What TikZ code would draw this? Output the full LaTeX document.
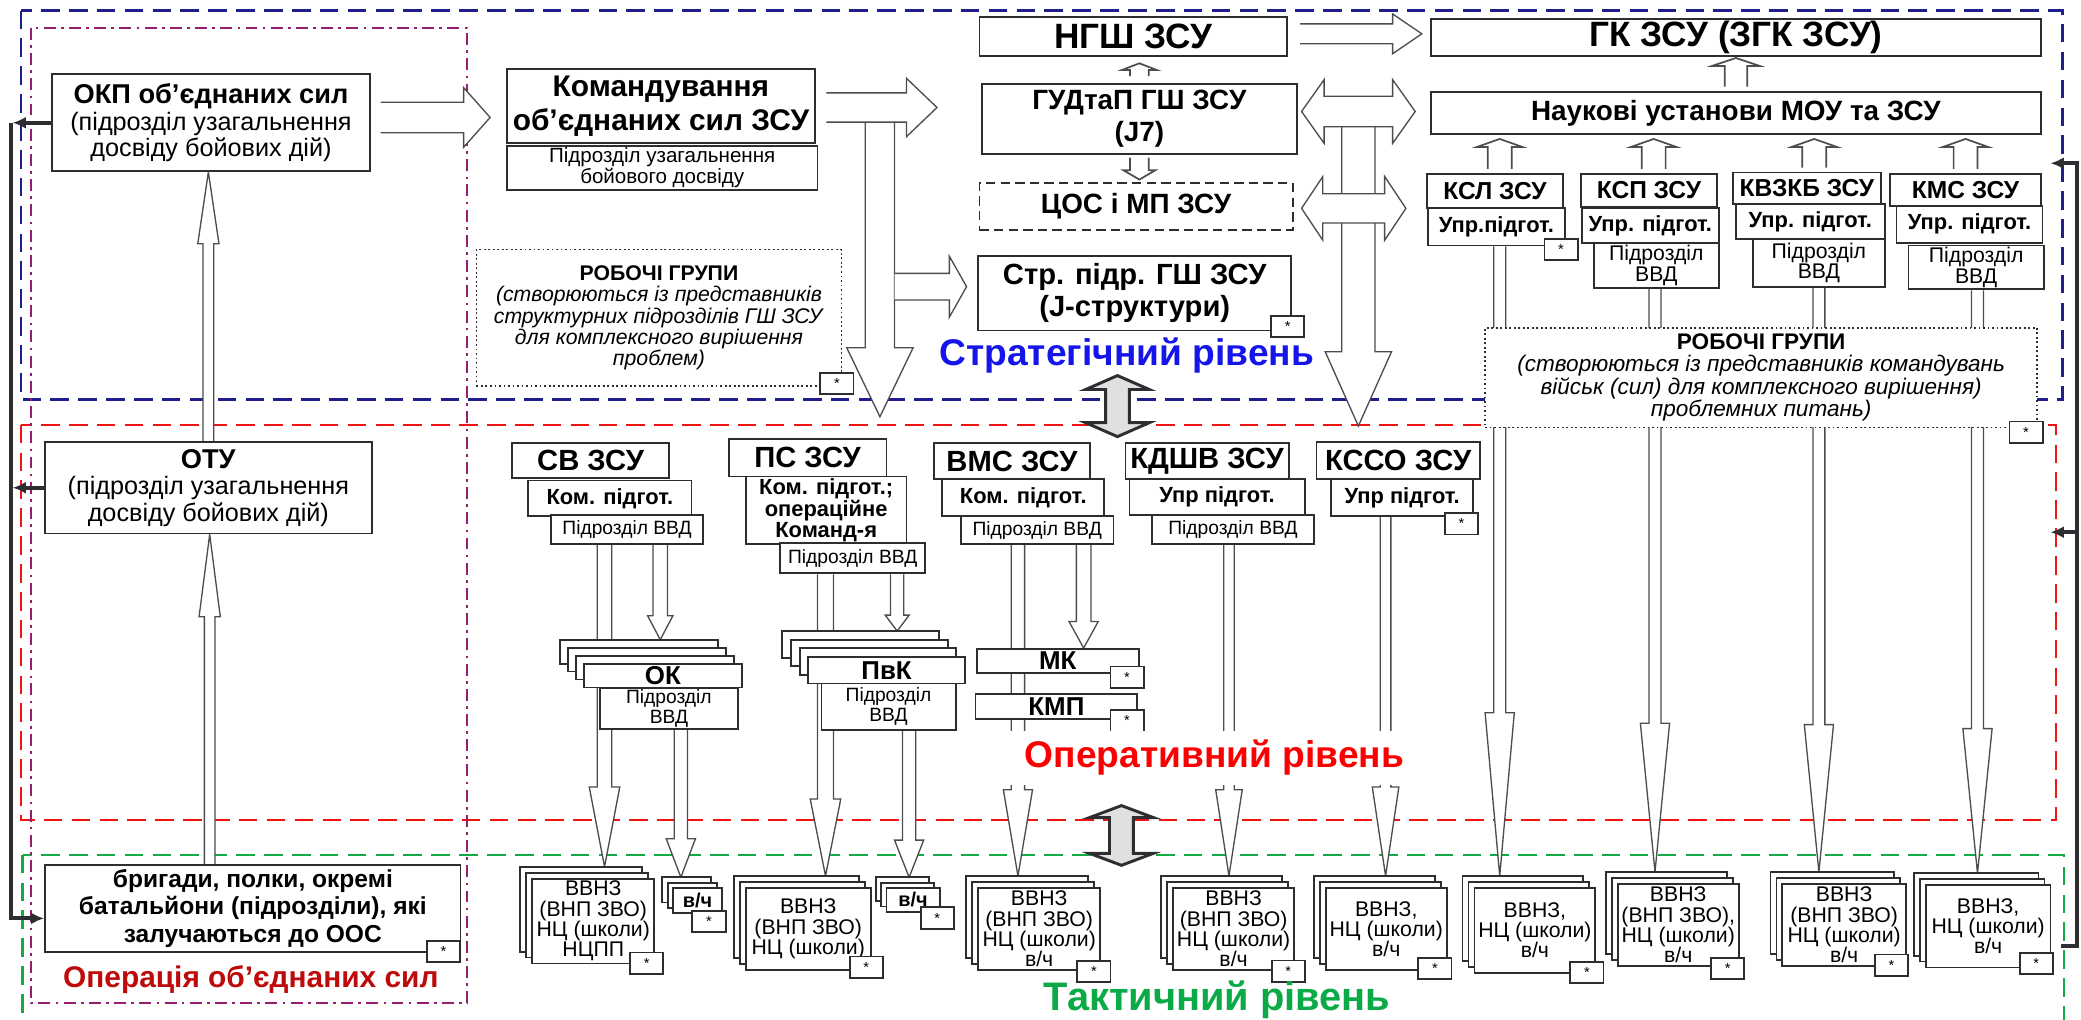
\documentclass[tikz,border=0pt]{standalone}
\usepackage{fontspec}
\setmainfont{Liberation Sans}
\usetikzlibrary{calc,arrows.meta}
\definecolor{linecol}{RGB}{45,45,50}
\definecolor{stratblue}{RGB}{30,30,140}
\definecolor{opred}{RGB}{240,20,20}
\definecolor{tacgreen}{RGB}{20,170,70}
\definecolor{oospurple}{RGB}{150,30,110}
\definecolor{txtblue}{RGB}{20,20,235}
\definecolor{txtred}{RGB}{250,0,0}
\definecolor{txtgreen}{RGB}{10,170,70}
\definecolor{txtdred}{RGB}{190,10,10}
\pgfdeclarelayer{frames}
\pgfdeclarelayer{arrows}
\pgfsetlayers{frames,arrows,main}
\tikzstyle{box}=[draw=linecol,line width=1.4pt,fill=white,
                 inner sep=1pt,align=center]
\tikzstyle{card}=[draw=linecol,line width=1.4pt,fill=white]
\tikzstyle{astbox}=[box,minimum width=25pt,minimum height=16pt,
                    font=\fontsize{11}{11}\selectfont]
\tikzstyle{harrow}=[draw=linecol!85,line width=1pt,fill=white,line join=miter]
\tikzstyle{grayarrow}=[draw=linecol,line width=2.2pt,fill=black!12]
\tikzstyle{fbline}=[draw=linecol,line width=3pt]
\tikzstyle{levelframe}=[line width=1.8pt,dash pattern=on 14pt off 7pt]
\tikzstyle{bigtxt}=[font=\fontsize{26.5}{28}\selectfont\bfseries]
\tikzstyle{midtxt}=[font=\fontsize{21}{24}\selectfont\bfseries]
\tikzstyle{hdrtxt}=[font=\fontsize{22}{24}\selectfont\bfseries]
\tikzstyle{subtxt}=[font=\fontsize{16.5}{16}\selectfont\bfseries]
\tikzstyle{ksltxt}=[font=\fontsize{18.5}{20}\selectfont\bfseries]
\tikzstyle{vvdtxt}=[font=\fontsize{14.5}{15}\selectfont]
\tikzstyle{rvvdtxt}=[font=\fontsize{16}{15.5}\selectfont]
\tikzstyle{vvnztxt}=[font=\fontsize{16}{15.3}\selectfont]
\tikzstyle{vchtxt}=[font=\fontsize{15}{15}\selectfont\bfseries]
\tikzstyle{unittxt}=[font=\fontsize{19.5}{19}\selectfont\bfseries]
\tikzstyle{leveltxt}=[font=\fontsize{28}{29}\selectfont\bfseries]
\tikzstyle{lefttxt}=[font=\fontsize{19}{20}\selectfont]
% box given by its corners
\newcommand{\cbox}[7][]{%
  \node[box,minimum width=#5pt-#3pt,minimum height=#6pt-#4pt,#1] (#2)
    at ({(#3+#5)/2},{(#4+#6)/2}) {#7};}
% small box with an asterisk at the lower right corner
\newcommand{\starbox}[2][-4,2]{%
  \node[astbox] (#2s) at ($(#2.south east)+(#1)$) {*};}
% stack of cards, front card given by its corners
\newcommand{\cardstack}[9][]{%
  \foreach \k in {#7,...,1}
    \draw[card] ({#3-#8*\k},{#4-#8*\k}) rectangle ({#5-#8*\k},{#6-#8*\k});
  \coordinate (#2b) at ({(#3+#5)/2-#8*#7},{#4-#8*#7});
  \cbox[#1]{#2}{#3}{#4}{#5}{#6}{#9}}
% hollow arrows: from, to, half shaft, half head, head length
\newcommand{\varr}[6][]{%
  \draw[harrow,#1] let \p1=(#2), \p2=(#3) in
    ({\x1-#4},\y1) -- ({\x1-#4},{\y2+#6}) -- ({\x1-#5},{\y2+#6}) -- (\x1,\y2)
    -- ({\x1+#5},{\y2+#6}) -- ({\x1+#4},{\y2+#6}) -- ({\x1+#4},\y1);}
\newcommand{\harr}[6][]{%
  \draw[harrow,#1] let \p1=(#2), \p2=(#3) in
    (\x1,{\y1+#4}) -- ({\x2-#6},{\y1+#4}) -- ({\x2-#6},{\y1+#5}) -- (\x2,\y1)
    -- ({\x2-#6},{\y1-#5}) -- ({\x2-#6},{\y1-#4}) -- (\x1,{\y1-#4});}
\newcommand{\dharr}[6][]{%
  \draw[harrow,#1] let \p1=(#2), \p2=(#3) in
    (\x1,\y1) -- ({\x1+#6},{\y1+#5}) -- ({\x1+#6},{\y1+#4}) -- ({\x2-#6},{\y1+#4})
    -- ({\x2-#6},{\y1+#5}) -- (\x2,\y1) -- ({\x2-#6},{\y1-#5}) -- ({\x2-#6},{\y1-#4})
    -- ({\x1+#6},{\y1-#4}) -- ({\x1+#6},{\y1-#5}) -- cycle;}
\newcommand{\dvarr}[6][]{%
  \draw[grayarrow,#1] let \p1=(#2), \p2=(#3) in
    (\x1,\y1) -- ({\x1+#5},{\y1-#6}) -- ({\x1+#4},{\y1-#6}) -- ({\x1+#4},{\y2+#6})
    -- ({\x1+#5},{\y2+#6}) -- (\x1,\y2) -- ({\x1-#5},{\y2+#6}) -- ({\x1-#4},{\y2+#6})
    -- ({\x1-#4},{\y1-#6}) -- ({\x1-#5},{\y1-#6}) -- cycle;}

\begin{document}
\begin{tikzpicture}[x=1pt,y=-1pt]
  \useasboundingbox (0,0) rectangle (1568,768);
  \clip (0,0) rectangle (1568,768);

  % frames of the levels
  \begin{pgfonlayer}{frames}
    \draw[levelframe,stratblue] (16,8) rectangle (1554,301);
    \draw[levelframe,opred] (16,320) rectangle (1549,618);
    \draw[levelframe,tacgreen] (17,644) rectangle (1555,800);
    \draw[oospurple,line width=1.5pt,dash pattern=on 9pt off 4pt on 2pt off 4pt]
      (23,21) rectangle (352,756);
  \end{pgfonlayer}

  % joint forces operation
  \cbox[lefttxt]{okp}{39}{56}{279}{129}
    {\textbf{\fontsize{20.5}{21}\selectfont ОКП об’єднаних сил}\\(підрозділ узагальнення\\досвіду бойових дій)}
  \cbox[lefttxt]{otu}{34}{333}{280}{402}
    {\textbf{\fontsize{20.5}{21}\selectfont ОТУ}\\(підрозділ узагальнення\\досвіду бойових дій)}
  \cbox[font=\fontsize{18.5}{21}\selectfont\bfseries]{brig}{34}{652}{347}{717}
    {бригади, полки, окремі\\батальйони (підрозділи), які\\залучаються до ООС}
  \starbox[-13.5,-1]{brig}
  \node[font=\fontsize{22.5}{23}\selectfont\bfseries,text=txtdred] (oos) at (189,738)
    {Операція об’єднаних сил};

  % strategic level
  \cbox[font=\fontsize{22.5}{25}\selectfont\bfseries]{kom}{382}{52}{614}{108}
    {Командування\\об’єднаних сил ЗСУ}
  \cbox[font=\fontsize{15.5}{14}\selectfont]{komsub}{382}{110}{616}{143}
    {Підрозділ узагальнення\\бойового досвіду}
  \cbox[font=\fontsize{16}{16}\selectfont,dotted,line width=1.2pt]{rgl}{359}{188}{634}{291}
    {\textbf{РОБОЧІ ГРУПИ}\\\textit{(створюються із представників}\\\textit{структурних підрозділів ГШ ЗСУ}\\\textit{для комплексного вирішення}\\\textit{проблем)}}
  \starbox[-4,-2.5]{rgl}
  \cbox[bigtxt]{ngsh}{738}{13}{970}{42}{НГШ ЗСУ}
  \cbox[midtxt]{gud}{740}{63}{977}{116}{ГУДтаП ГШ ЗСУ\\(J7)}
  \cbox[midtxt,dash pattern=on 7pt off 4pt]{tsos}{738}{138}{974}{173}{ЦОС і МП ЗСУ}
  \cbox[font=\fontsize{22}{24}\selectfont\bfseries]{strp}{737}{193}{973}{249}
    {Стр. підр. ГШ ЗСУ\\(J-структури)}
  \starbox[-3.5,-3.5]{strp}
  \node[leveltxt,text=txtblue] (strat) at (849,268) {Стратегічний рівень};
  \cbox[bigtxt]{gk}{1078}{14}{1538}{42}{ГК ЗСУ (ЗГК ЗСУ)}
  \cbox[font=\fontsize{21}{22}\selectfont\bfseries]{nauk}{1078}{69}{1538}{101}
    {Наукові установи МОУ та ЗСУ}
  \cbox[ksltxt]{ksl}{1075}{131}{1178}{157}{КСЛ ЗСУ}
  \cbox[subtxt]{kslu}{1076}{157}{1179}{185}{Упр.підгот.}
  \starbox[-3.5,2.5]{kslu}
  \cbox[ksltxt]{ksp}{1191}{131}{1294}{156}{КСП ЗСУ}
  \cbox[subtxt]{kspu}{1192}{157}{1295}{183}{Упр. підгот.}
  \cbox[rvvdtxt]{kspv}{1201}{183}{1295}{217}{Підрозділ\\ВВД}
  \cbox[ksltxt]{kvz}{1306}{130}{1417}{154}{КВЗКБ ЗСУ}
  \cbox[subtxt]{kvzu}{1308}{154}{1420}{180}{Упр. підгот.}
  \cbox[rvvdtxt]{kvzv}{1321}{180}{1420}{216}{Підрозділ\\ВВД}
  \cbox[ksltxt]{kms}{1424}{131}{1538}{155}{КМС ЗСУ}
  \cbox[subtxt]{kmsu}{1429}{155}{1539}{183}{Упр. підгот.}
  \cbox[rvvdtxt]{kmsv}{1438}{185}{1540}{218}{Підрозділ\\ВВД}
  \cbox[font=\fontsize{17}{17}\selectfont,dotted,line width=1.2pt]{rgr}{1119}{247}{1535}{322}
    {\textbf{РОБОЧІ ГРУПИ}\\\textit{(створюються із представників командувань}\\\textit{військ (сил) для комплексного вирішення)}\\\textit{проблемних питань)}}
  \starbox[-9,3]{rgr}

  % operational level
  \cbox[hdrtxt]{sv}{386}{334}{504}{360}{СВ ЗСУ}
  \cbox[subtxt]{svk}{398}{362}{521}{389}{Ком. підгот.}
  \cbox[vvdtxt]{svv}{415}{388}{530}{410}{Підрозділ ВВД}
  \cbox[hdrtxt]{ps}{549}{331}{668}{359}{ПС ЗСУ}
  \cbox[subtxt]{psk}{562}{359}{683}{410}{Ком. підгот.;\\операційне\\Команд-я}
  \cbox[vvdtxt]{psv}{588}{409}{697}{432}{Підрозділ ВВД}
  \cbox[hdrtxt]{vms}{704}{334}{821}{361}{ВМС ЗСУ}
  \cbox[subtxt]{vmsk}{710}{361}{832}{389}{Ком. підгот.}
  \cbox[vvdtxt]{vmsv}{724}{389}{839}{410}{Підрозділ ВВД}
  \cbox[hdrtxt]{kdshv}{848}{334}{971}{361}{КДШВ ЗСУ}
  \cbox[subtxt]{kdshvu}{851}{361}{983}{388}{Упр підгот.}
  \cbox[vvdtxt]{kdshvv}{868}{388}{990}{410}{Підрозділ ВВД}
  \cbox[hdrtxt]{ksso}{992}{333}{1115}{361}{КССО ЗСУ}
  \cbox[subtxt]{kssou}{1003}{361}{1110}{389}{Упр підгот.}
  \starbox[-9.5,5]{kssou}
  \cardstack[unittxt]{ok}{440}{500}{559}{518}{3}{6}{ОК}
  \cbox[vvdtxt]{okv}{452}{519}{556}{549}{Підрозділ\\ВВД}
  \cardstack[unittxt]{pvk}{609}{495}{727}{515}{3}{6.5}{ПвК}
  \cbox[vvdtxt]{pvkv}{619}{515}{720}{550}{Підрозділ\\ВВД}
  \cbox[unittxt]{mk}{736}{489}{858}{507}{МК}
  \starbox[-9.5,2.5]{mk}
  \cbox[unittxt]{kmp}{735}{523}{857}{542}{КМП}
  \starbox[-8.5,0.5]{kmp}
  \node[leveltxt,text=txtred,fill=white,inner xsep=13pt,inner ysep=7pt] (oper)
    at (915,571) {Оперативний рівень};

  % tactical level
  \cardstack[vvnztxt]{tsv}{401}{662}{493}{726}{2}{4.5}{ВВНЗ\\(ВНП ЗВО)\\НЦ (школи)\\НЦПП}
  \starbox[-6.5,-1]{tsv}
  \cardstack[vchtxt]{tsvv}{507}{669}{544}{688}{2}{4}{в/ч}
  \starbox[-10.5,5.5]{tsvv}
  \cardstack[vvnztxt]{tps}{562}{669}{656}{731}{2}{4.5}{ВВНЗ\\(ВНП ЗВО)\\НЦ (школи)}
  \starbox[-4,-3]{tps}
  \cardstack[vchtxt]{tpsv}{668}{669}{708}{687}{2}{4}{в/ч}
  \starbox[-2.5,4]{tpsv}
  \cardstack[vvnztxt]{tvms}{737}{669}{829}{731}{2}{4.5}{ВВНЗ\\(ВНП ЗВО)\\НЦ (школи)\\в/ч}
  \starbox[-5.5,0.5]{tvms}
  \cardstack[vvnztxt]{tkdshv}{884}{669}{975}{731}{2}{4.5}{ВВНЗ\\(ВНП ЗВО)\\НЦ (школи)\\в/ч}
  \starbox[-5,0]{tkdshv}
  \cardstack[vvnztxt]{tksso}{999}{669}{1090}{731}{2}{4.5}{ВВНЗ,\\НЦ (школи)\\в/ч}
  \starbox[-9.5,-2]{tksso}
  \cardstack[vvnztxt]{tksl}{1111}{669}{1202}{733}{2}{4.5}{ВВНЗ,\\НЦ (школи)\\в/ч}
  \starbox[-7,-1]{tksl}
  \cardstack[vvnztxt]{tksp}{1219}{666}{1310}{728}{2}{4.5}{ВВНЗ\\(ВНП ЗВО),\\НЦ (школи)\\в/ч}
  \starbox[-9,1]{tksp}
  \cardstack[vvnztxt]{tkvz}{1343}{666}{1436}{728}{2}{4.5}{ВВНЗ\\(ВНП ЗВО)\\НЦ (школи)\\в/ч}
  \starbox[-11.5,-1.5]{tkvz}
  \cardstack[vvnztxt]{tkms}{1451}{667}{1545}{729}{2}{4.5}{ВВНЗ,\\НЦ (школи)\\в/ч}
  \starbox[-11.5,-3.5]{tkms}
  \node[font=\fontsize{30}{31}\selectfont\bfseries,text=txtgreen] (takt) at (917,753)
    {Тактичний рівень};

  % free ends of the big arrows
  \coordinate (komtip) at (706,81);
  \coordinate (komdown) at (663,92);
  \coordinate (komdowntip) at (663,314);
  \coordinate (brst) at (674,216);
  \coordinate (gv1) at (1023.5,95.5);
  \coordinate (gvtip) at (1023.5,321);
  \coordinate (lv1a) at (842,283);
  \coordinate (lv1b) at (842,329);
  \coordinate (lv2a) at (845,607);
  \coordinate (lv2b) at (845,652);

  \begin{pgfonlayer}{arrows}
    % strategic
    \harr{[xshift=7pt,yshift=4pt]okp.east}{[xshift=-12pt]kom.west}{11.5pt}{22.5pt}{20pt}
    \varr{komdown}{komdowntip}{11pt}{25pt}{52pt}
    \harr{[xshift=8pt,yshift=-1pt]kom.east}{komtip}{11pt}{22pt}{23pt}
    \harr{brst}{[xshift=-8pt]strp.west}{10pt}{23pt}{13pt}
    \harr{[xshift=9pt,yshift=2pt]ngsh.east}{[xshift=-6pt]gk.west}{7.5pt}{15pt}{22pt}
    \varr[line width=1.3pt]{[yshift=5pt]gud.north}{[yshift=-5pt]ngsh.south}{7pt}{13pt}{-5pt}
    \varr[line width=1.3pt]{[yshift=-2pt]gud.south}{[yshift=2pt]tsos.north}{7pt}{12pt}{7pt}
    \varr{gv1}{gvtip}{12.5pt}{25pt}{56pt}
    \dharr{[xshift=3pt,yshift=5.5pt]gud.east}{[xshift=-11pt]nauk.west}{11.5pt}{24pt}{17pt}
    \dharr{[xshift=6pt,yshift=-1.5pt]tsos.east}{[xshift=-15pt]ksl.west}{11pt}{24pt}{16pt}
    \varr[line width=1.3pt]{[yshift=3pt]nauk.north}{[yshift=-1pt]gk.south}{8.5pt}{18pt}{-6pt}
    \varr[line width=1.3pt]{[xshift=3.5pt,yshift=3pt]ksl.north}{[yshift=-3pt]nauk.south}{9pt}{17pt}{-6pt}
    \varr[line width=1.3pt]{[xshift=3.5pt,yshift=3pt]ksp.north}{[yshift=-3pt]nauk.south}{9pt}{17pt}{-6pt}
    \varr[line width=1.3pt]{[xshift=5.5pt,yshift=3pt]kvz.north}{[yshift=-3pt]nauk.south}{9pt}{17pt}{-6pt}
    \varr[line width=1.3pt]{[yshift=3pt]kms.north}{[yshift=-3pt]nauk.south}{9pt}{17pt}{-6pt}
    \varr{[xshift=2.5pt]kslu.south}{tkslb}{4.5pt}{11pt}{123pt}
    \varr{[xshift=-1pt]kspv.south}{tkspb}{4.5pt}{11pt}{112pt}
    \varr{kvzv.south}{tkvzb}{4.5pt}{11pt}{111pt}
    \varr{[xshift=1pt]kmsv.south}{tkmsb}{4.5pt}{11pt}{109pt}
    % operational
    \varr{[xshift=-17pt]svv.south}{tsvb}{5.5pt}{11.5pt}{60pt}
    \varr{[xshift=25pt]svv.south}{okb}{5.5pt}{9.5pt}{18pt}
    \varr{[xshift=-20.5pt]psv.south}{tpsb}{6pt}{11.5pt}{58pt}
    \varr{[xshift=33.5pt]psv.south}{pvkb}{5pt}{9pt}{12pt}
    \varr{[xshift=-14.5pt]vmsv.south}{tvmsb}{5pt}{11pt}{65pt}
    \varr{[xshift=35pt]vmsv.south}{mk.north}{5.5pt}{11pt}{20pt}
    \varr{[xshift=-3pt]kdshvv.south}{tkdshvb}{4pt}{10pt}{65pt}
    \varr{[xshift=-12.5pt]kssou.south}{tkssob}{4pt}{10pt}{67pt}
    \varr{[xshift=9pt]okv.south}{tsvvb}{5pt}{11pt}{29pt}
    \varr{[xshift=15.5pt]pvkv.south}{tpsvb}{5pt}{11pt}{28pt}
    % left column
    \varr{otu.north}{okp.south}{4pt}{8pt}{-54pt}
    \varr{[xshift=-32.5pt]brig.north}{otu.south}{4pt}{8pt}{-62pt}
    % between the levels
    \dvarr{lv1a}{lv1b}{9pt}{24pt}{10.5pt}
    \dvarr{lv2a}{lv2b}{9pt}{24pt}{9pt}
  \end{pgfonlayer}

  % feedback lines
  \coordinate (lbus) at (8,0);
  \coordinate (brigin) at ([yshift=-7.5pt]brig.west);
  \draw[fbline,-{Latex[length=10pt,width=9pt]}] (okp.west -| lbus) -- (lbus |- brigin) -- (brigin);
  \draw[fbline,-{Latex[length=10pt,width=9pt]}] (okp.west) -- ([xshift=1.5pt]okp.west -| lbus);
  \draw[fbline,-{Latex[length=10pt,width=9pt]}] (otu.west) -- ([xshift=1.5pt]otu.west -| lbus);
  \coordinate (rbus) at (1565,0);
  \coordinate (rfoot) at (1553,713);
  \coordinate (rin1) at (1545,123);
  \coordinate (rin2) at (1545,401);
  \draw[fbline,-{Latex[length=10pt,width=9pt]}] (rfoot) -- (rfoot -| rbus) -- (rbus |- rin1) -- (rin1);
  \draw[fbline,-{Latex[length=10pt,width=9pt]}] (rbus |- rin2) -- (rin2);
\end{tikzpicture}
\end{document}
